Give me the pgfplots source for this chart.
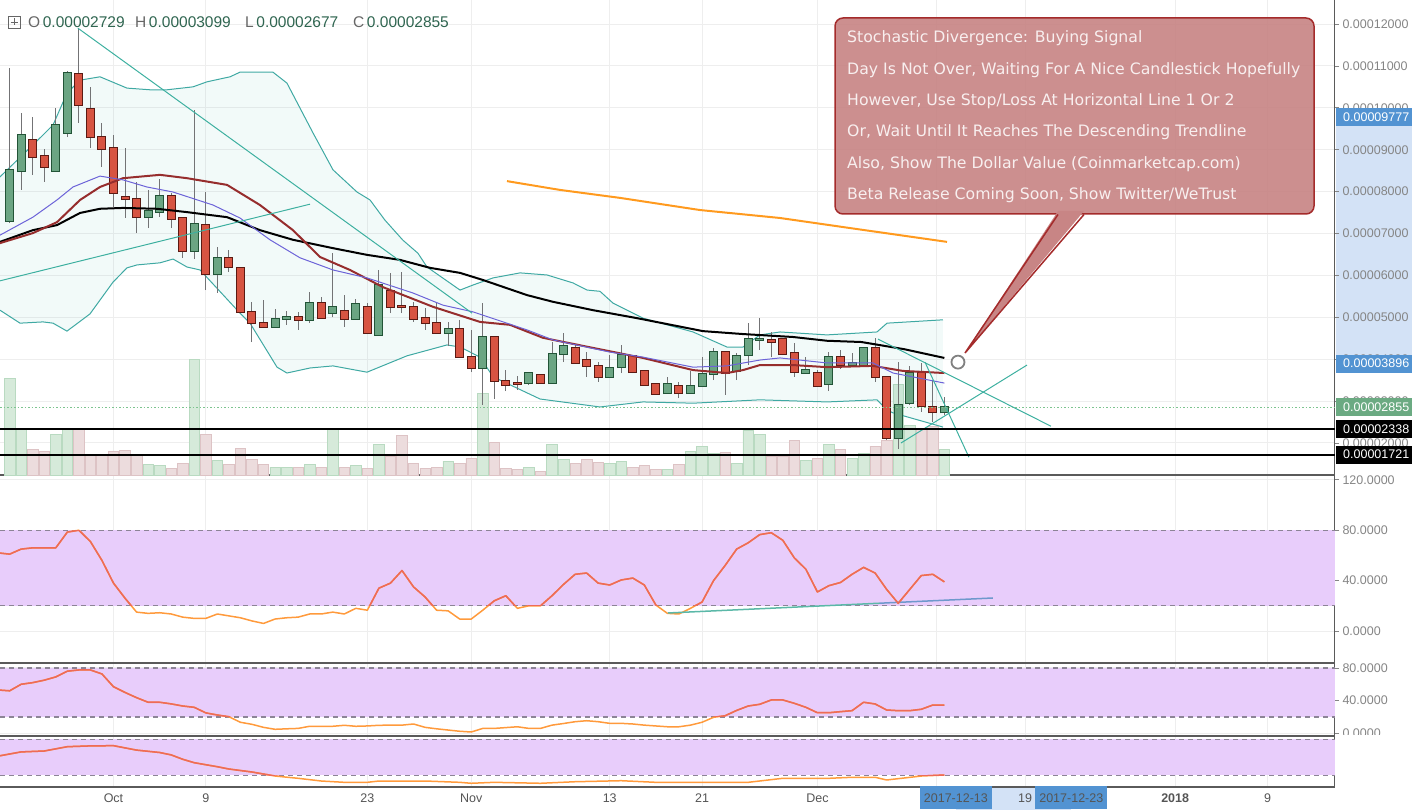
\documentclass[border=0pt]{standalone}
\usepackage{pgfplots}
\pgfplotsset{compat=1.18}
\usepackage{pgfplotstable}
\usepackage{fontspec}
\setmainfont{Liberation Sans}
\newfontfamily\dejavu{DejaVu Sans}

\definecolor{tvlabel}{HTML}{858585}
\definecolor{tvdate}{HTML}{555555}
\definecolor{gridc}{HTML}{EEEEEE}
\definecolor{axisc}{HTML}{5A5A5A}
\definecolor{gfill}{HTML}{6BA583}
\definecolor{gline}{HTML}{225437}
\definecolor{rfill}{HTML}{D75442}
\definecolor{rline}{HTML}{5B1A13}
\definecolor{wick}{HTML}{737375}
\definecolor{volg}{HTML}{D6EADA}
\definecolor{volgl}{HTML}{B9DAC1}
\definecolor{volr}{HTML}{ECDCDD}
\definecolor{volrl}{HTML}{DDC3C5}
\definecolor{bbteal}{HTML}{3FA9A3}
\definecolor{bbfillc}{HTML}{26A69A}
\definecolor{madred}{HTML}{962D2D}
\definecolor{mapurple}{HTML}{6C63D8}
\definecolor{maorange}{HTML}{FF9A1E}
\definecolor{trend}{HTML}{3DB0A0}
\definecolor{curgreen}{HTML}{7DC48F}
\definecolor{bandfill}{HTML}{E8CDFB}
\definecolor{banddash}{HTML}{8C8496}
\definecolor{stred}{HTML}{EE6A58}
\definecolor{storange}{HTML}{FF9A3C}
\definecolor{divteal}{HTML}{5BB8A8}
\definecolor{divblue}{HTML}{6E98CC}
\definecolor{tvblue}{HTML}{5293D2}
\definecolor{rangeblue}{HTML}{D3E2F6}
\definecolor{boxgreen}{HTML}{6BAA82}
\definecolor{annofill}{HTML}{C88585}
\definecolor{annoline}{HTML}{A42B2B}
\definecolor{annotext}{HTML}{F8EFEF}
\definecolor{hdrval}{HTML}{2F6550}
\definecolor{hdrkey}{HTML}{666666}

\newcommand{\lblfont}{\fontsize{12.5}{13}\selectfont}

% candles: day index (0 = 1 Oct 2017), open, high, low, close  (price x 1e-5)
\pgfplotstableread{
d O H L C
-9 7.30 10.95 7.25 8.52
-8 8.49 9.88 8.04 9.35
-5 8.49 10.00 8.47 9.59
-4 9.40 10.88 9.30 10.83
3 7.39 8.04 7.13 7.54
4 7.51 8.30 7.39 7.90
7 6.58 9.95 6.39 7.23
9 6.03 6.68 5.58 6.42
14 4.77 5.20 4.75 4.96
15 4.96 5.15 4.82 5.00
17 4.94 5.60 4.86 5.34
19 5.10 6.53 5.00 5.25
21 4.96 5.44 4.94 5.32
23 4.58 6.13 4.56 5.77
29 4.63 4.89 4.31 4.72
32 3.79 5.34 2.91 4.53
36 3.43 3.69 3.38 3.67
38 3.43 4.41 3.41 4.12
39 4.12 4.63 3.93 4.32
43 3.58 4.10 3.55 3.79
44 3.81 4.34 3.67 4.10
48 3.19 3.58 3.17 3.41
50 3.19 3.72 3.17 3.36
51 3.36 4.05 3.34 3.65
52 3.65 4.27 3.50 4.17
54 3.72 4.15 3.50 4.08
55 4.10 4.86 3.86 4.48
56 4.46 4.98 4.22 4.49
60 3.67 4.05 3.67 3.74
62 3.41 4.17 3.24 4.05
64 3.86 4.15 3.84 3.91
65 3.86 4.27 3.84 4.27
68 2.12 3.93 1.86 2.91
69 2.96 3.84 2.91 3.67
72 2.73 3.10 2.68 2.86
}\cgreen
\pgfplotstableread{
d O H L C
-7 9.23 9.78 8.40 8.83
-6 8.85 9.02 8.23 8.59
-3 10.81 11.90 9.64 10.07
-2 9.97 10.50 9.04 9.30
-1 9.30 9.64 8.59 9.02
0 9.04 9.35 7.63 7.97
1 7.87 9.04 7.37 7.82
2 7.82 8.23 7.01 7.39
5 7.90 7.97 7.13 7.35
6 7.37 7.40 6.42 6.58
8 7.20 7.99 5.65 6.03
10 6.42 6.61 6.08 6.20
11 6.18 6.20 5.10 5.13
12 5.13 5.37 4.41 4.86
13 4.86 5.41 4.77 4.77
16 5.00 5.13 4.70 4.94
18 5.34 5.48 4.96 4.98
20 5.15 5.53 4.77 4.96
22 5.25 5.34 4.60 4.63
24 5.63 6.06 5.10 5.25
25 5.28 6.08 5.10 5.25
26 5.25 5.37 4.89 4.96
27 4.98 5.22 4.70 4.86
28 4.86 5.34 4.63 4.63
30 4.72 4.94 4.05 4.05
31 4.05 4.70 3.69 3.79
33 4.53 4.53 3.05 3.48
34 3.48 3.74 3.24 3.38
35 3.44 3.60 3.27 3.41
37 3.62 3.65 3.41 3.43
40 4.27 4.34 3.91 3.91
41 3.98 4.17 3.58 3.84
42 3.84 3.93 3.46 3.58
45 4.08 4.10 3.67 3.69
46 3.72 3.74 3.38 3.38
47 3.41 3.43 3.15 3.17
49 3.36 3.46 3.07 3.19
53 4.17 4.17 3.15 3.67
57 4.46 4.65 4.05 4.41
58 4.48 4.48 4.10 4.12
59 4.15 4.39 3.58 3.69
61 3.67 3.74 3.34 3.36
63 4.05 4.22 3.77 3.86
66 4.27 4.51 3.46 3.58
67 3.58 3.58 2.07 2.12
70 3.67 3.91 2.74 2.88
71 2.86 3.50 2.50 2.73
}\cred
% volume (arbitrary units)
\pgfplotstableread{
d v
-9 97
-8 47
-5 41
-4 47
3 11
4 10
7 116
9 15
14 8
15 8
17 11
19 46
21 10
23 31
29 14
32 82
36 8
38 31
39 16
43 12
44 14
48 6
50 24
51 29
52 22
54 12
55 45
56 41
60 15
62 31
64 17
65 22
68 91
69 50
72 26
}\volgreen
\pgfplotstableread{
d v
-7 26
-6 24
-3 47
-2 21
-1 21
0 24
1 25
2 21
5 7
6 12
8 41
10 11
11 27
12 16
13 11
16 8
18 8
20 8
22 7
24 19
25 40
26 12
27 7
28 8
30 12
31 17
33 33
34 7
35 6
37 4
40 12
41 16
42 13
45 8
46 10
47 6
49 11
53 23
57 19
58 19
59 35
61 17
63 26
66 29
67 35
70 47
71 49
}\volred
% stochastic RSI panels
\pgfplotstableread{
d v
-10 62
-9 61
-8 65
-7 66
-6 66
-5 66
-4 78.5
-3 80
-2 71
-1 56
0 38
1 26
2 15
3 14
4 14.5
5 13.5
6 11
7 10
8 10
9 13.5
10 12
11 10.5
12 8
13 6
14 9.5
15 10.5
16 11
17 13.5
18 13.5
19 15
20 13.5
21 18
22 16.5
23 34
24 38
25 48
26 35
27 27
28 16.5
29 16
30 9.5
31 9.5
32 16.5
33 24
34 28
35 18
36 20
37 20
38 28
39 37
40 45
41 46
42 38
43 36.5
44 40.5
45 42
46 36.5
47 20.6
48 14
49 13.5
50 18
51 23
52 40
53 52
54 65
55 70
56 76.5
57 78
58 72
59 58
60 49
61 31
62 36
63 38.5
64 45
65 50.5
66 46
67 33
68 22
69 33
70 44
71 45
72 39
}\stochA
\pgfplotstableread{
d v
-10 53
-9 52
-8 60
-7 62
-6 65
-5 69
-4 76
-3 77.5
-2 77.5
-1 72.6
0 57
1 50
2 43.6
3 38
4 38
5 36
6 33.4
7 31.8
8 25
9 22.4
10 20.3
11 13.5
12 11
13 7.3
14 4.9
15 5.5
16 6
17 8.6
18 8.6
19 8.6
20 9.8
21 8.6
22 9
23 9.8
24 10
25 10
26 11.4
27 7.3
28 5.5
29 4
30 2.5
31 1.6
32 6
33 6
34 7
35 8
36 6
37 6
38 10
39 12
40 14.2
41 15.4
42 14.2
43 12.2
44 12.2
45 11.4
46 10
47 9
48 8
49 8
50 10
51 13.5
52 19.6
53 21.5
54 28
55 33.4
56 35.5
57 40.8
58 40.8
59 36.7
60 31.8
61 25.2
62 25.2
63 26.5
64 27.7
65 38
66 35.9
67 28.5
68 27.7
69 27.7
70 29.4
71 34.6
72 34.6
}\stochB
\pgfplotstableread{
d v
-10 52
-8 59
-6 60.5
-4 67.7
-2 69
0 69.4
2 62
4 58
5 54
6 46.7
7 41
9 34.3
10 30.5
12 25.5
14 18.8
16 15
18 10.5
20 8.3
22 8.3
23 10.5
27 10.5
30 8.3
31 6.7
33 8.3
37 6.7
40 9.3
44 11
47 8.3
51 8.3
55 8.3
58 15
62 15
64 16.7
66 16.7
67 12.2
70 18.8
72 20.5
}\stochC

\pgfplotsset{
  tvbase/.style={
    scale only axis, width=1335pt, xmin=-9.835, xmax=105.85,
    axis x line*=bottom, axis y line*=right,
    axis line style={-, draw=axisc},
    x axis line style={line width=2pt},
    y axis line style={line width=1pt},
    xtick={0,8,22,31,43,51,61,71.3,79,92,100},
    xticklabels={}, xtick style={draw=none},
    xmajorgrids, ymajorgrids,
    major grid style={draw=gridc, line width=1pt},
    tick align=outside, major tick length=4pt,
    ytick style={draw=tvlabel, line width=0.8pt},
    yticklabel style={font=\lblfont, text=tvlabel},
    clip mode=individual,
  },
  tvover/.style={
    scale only axis, width=1335pt, xmin=-9.835, xmax=105.85,
    hide axis, clip mode=individual,
  },
  bandlines/.style={banddash, line width=1.3pt, dash pattern=on 5pt off 4pt},
  wickplot/.style={mark=none, draw=none, error bars/.cd, y dir=plus, y explicit, error mark=none,
    error bar style={draw=wick, line width=1pt}},
  bodyline/.style={mark=none, draw=none, error bars/.cd, y dir=plus, y explicit, error mark=none,
    error bar style={draw=#1, line width=9pt, shorten <=-1pt, shorten >=-1pt}},
  bodyfill/.style={mark=none, draw=none, error bars/.cd, y dir=plus, y explicit, error mark=none,
    error bar style={draw=#1, line width=7pt}},
}
\tikzset{pricebox/.style={anchor=west, xshift=1pt, text=white, font=\lblfont,
  minimum height=18pt, inner ysep=0pt, inner xsep=7pt, text width=62pt, align=left}}

\begin{document}
\begin{tikzpicture}
\path[use as bounding box] (0pt,0pt) rectangle (1412pt,-810pt);

% ---------- price-scale highlight (behind the labels) ----------
\begin{axis}[tvover, at={(0pt,0pt)}, anchor=north west, height=475pt, ymin=1.236, ymax=12.573]
  \addplot[draw=none] coordinates {(0,5) (10,6)};
  \fill[rangeblue] (axis cs:105.95,9.777) rectangle (axis cs:112.6,3.896);
\end{axis}

% ---------- main panel: grid, price scale ----------
\begin{axis}[tvbase, at={(0pt,0pt)}, anchor=north west, height=475pt,
  ymin=1.236, ymax=12.573,
  ytick={2,3,4,5,6,7,8,9,10,11,12},
  yticklabels={0.00002000,0.00003000,0.00004000,0.00005000,0.00006000,0.00007000,0.00008000,0.00009000,0.00010000,0.00011000,0.00012000}]
  \addplot[draw=none] coordinates {(0,5) (10,6)};
\end{axis}

% ---------- volume ----------
\begin{axis}[tvover, at={(0pt,0pt)}, anchor=north west, height=475pt, ymin=0, ymax=475]
  \addplot[ybar, bar width=10.5pt, bar shift=0pt, fill=volg, draw=volgl, line width=0.6pt] table[x=d,y=v] {\volgreen};
  \addplot[ybar, bar width=10.5pt, bar shift=0pt, fill=volr, draw=volrl, line width=0.6pt] table[x=d,y=v] {\volred};
\end{axis}

% ---------- main panel: price series and indicators ----------
\begin{axis}[tvover, at={(0pt,0pt)}, anchor=north west, height=475pt,
  ymin=1.236, ymax=12.573]
  % Bollinger band area and lines
  \addplot[fill=bbfillc, fill opacity=0.06, draw=none] coordinates {
    (-9.84,8.35) (-6.11,9.35) (-5.24,9.59) (-4.03,10.35) (-2.90,10.66) (-1.17,10.74) (1.17,10.47) (3.16,10.43) (4.64,10.43) (6.89,10.50) (8.10,10.62) (10.10,10.74) (10.96,10.85) (13.82,10.85) (15.03,10.59) (17.29,9.40) (19.02,8.52) (21.10,7.99) (22.23,7.80) (23.52,7.32) (25.08,6.84) (26.38,6.53) (27.17,6.20) (30.03,5.65) (31.15,5.77) (32.89,5.94) (35.23,6.06) (37.57,6.01) (39.82,5.82) (41.04,5.65) (42.16,5.62) (43.28,5.34) (45.88,4.98) (50.22,4.65) (53.16,4.29) (54.55,4.29) (56.02,4.58) (57.76,4.65) (61.83,4.58) (66.16,4.65) (67.03,4.86) (71.88,4.94)
    (71.88,2.38) (67.55,2.72) (67.03,2.79) (66.16,3.03) (61.83,2.98) (56.02,3.03) (50.22,2.95) (45.88,2.98) (42.16,2.86) (36.96,3.05) (32.89,3.58) (31.76,4.05) (30.03,4.29) (28.90,4.34) (25.43,4.08) (21.97,3.69) (19.02,3.84) (17.03,3.79) (15.03,3.67) (14.17,3.81) (11.83,4.86) (10.96,5.10) (7.50,6.13) (6.37,6.20) (5.16,6.39) (4.03,6.30) (2.04,6.25) (1.17,6.18) (-0.04,5.84) (-2.04,5.08) (-4.03,4.67) (-5.24,4.86) (-6.11,4.89) (-8.10,4.86) (-9.84,5.17)} -- cycle;
  \addplot[bbteal, line width=1pt, line join=round] coordinates {
    (-9.84,8.35) (-6.11,9.35) (-5.24,9.59) (-4.03,10.35) (-2.90,10.66) (-1.17,10.74) (1.17,10.47) (3.16,10.43) (4.64,10.43) (6.89,10.50) (8.10,10.62) (10.10,10.74) (10.96,10.85) (13.82,10.85) (15.03,10.59) (17.29,9.40) (19.02,8.52) (21.10,7.99) (22.23,7.80) (23.52,7.32) (25.08,6.84) (26.38,6.53) (27.17,6.20) (30.03,5.65) (31.15,5.77) (32.89,5.94) (35.23,6.06) (37.57,6.01) (39.82,5.82) (41.04,5.65) (42.16,5.62) (43.28,5.34) (45.88,4.98) (50.22,4.65) (53.16,4.29) (54.55,4.29) (56.02,4.58) (57.76,4.65) (61.83,4.58) (66.16,4.65) (67.03,4.86) (71.88,4.94)};
  \addplot[bbteal, line width=1pt, line join=round] coordinates {
    (-9.84,5.17) (-8.10,4.86) (-6.11,4.89) (-5.24,4.86) (-4.03,4.67) (-2.04,5.08) (-0.04,5.84) (1.17,6.18) (2.04,6.25) (4.03,6.30) (5.16,6.39) (6.37,6.20) (7.50,6.13) (10.96,5.10) (11.83,4.86) (14.17,3.81) (15.03,3.67) (17.03,3.79) (19.02,3.84) (21.97,3.69) (25.43,4.08) (28.90,4.34) (30.03,4.29) (31.76,4.05) (32.89,3.58) (36.96,3.05) (42.16,2.86) (45.88,2.98) (50.22,2.95) (56.02,3.03) (61.83,2.98) (66.16,3.03) (67.03,2.79) (67.55,2.72) (71.88,2.38)};

  % candles: wicks
  \addplot[wickplot] table[x=d, y=L, y error expr=\thisrow{H}-\thisrow{L}] {\cgreen};
  \addplot[wickplot] table[x=d, y=L, y error expr=\thisrow{H}-\thisrow{L}] {\cred};
  % candles: bodies (outline, then fill)
  \addplot[bodyline=gline] table[x=d, y=O, y error expr=\thisrow{C}-\thisrow{O}] {\cgreen};
  \addplot[bodyfill=gfill] table[x=d, y=O, y error expr=\thisrow{C}-\thisrow{O}] {\cgreen};
  \addplot[bodyline=rline] table[x=d, y=C, y error expr=\thisrow{O}-\thisrow{C}] {\cred};
  \addplot[bodyfill=rfill] table[x=d, y=C, y error expr=\thisrow{O}-\thisrow{C}] {\cred};

  % moving averages
  \addplot[black, line width=2pt, line join=round] coordinates {
    (-9.84,6.80) (-6.98,7.08) (-4.90,7.20) (-2.90,7.49) (-1.17,7.59) (0.82,7.61) (3.77,7.59) (6.37,7.51) (9.84,7.39) (12.69,7.08) (15.55,6.85) (19.02,6.65) (21.97,6.49) (24.83,6.37) (27.43,6.18) (30.03,6.06) (32.02,5.89) (35.83,5.53) (38.08,5.37) (41.55,5.17) (45.36,4.98) (51.08,4.67) (54.55,4.60) (58.88,4.53) (61.83,4.44) (64.8,4.41) (68.5,4.24) (72,4.03)};
  \addplot[madred, line width=2pt, line join=round] coordinates {
    (-9.84,6.77) (-6.98,7.01) (-4.90,7.27) (-2.90,7.80) (-1.17,8.11) (0.82,8.32) (4.03,8.40) (6.37,8.32) (9.84,8.16) (12.69,7.68) (15.55,7.08) (17.89,6.44) (20.49,6.13) (23.35,5.72) (27.69,5.25) (31.76,4.89) (34.36,4.82) (37.22,4.51) (41.55,4.27) (45.88,4.03) (50.22,3.74) (53.16,3.67) (54.55,3.74) (56.02,3.86) (58.88,3.86) (61.83,3.81) (65.81,3.84) (68.41,3.72) (72,3.67)};
  \addplot[mapurple, line width=1pt, line join=round] coordinates {
    (-9.84,6.96) (-6.98,7.39) (-4.90,7.80) (-3.51,8.11) (-1.17,8.37) (0.82,8.28) (2.90,8.11) (5.16,7.99) (8.62,7.68) (10.96,7.37) (13.56,6.85) (16.16,6.42) (19.02,6.13) (21.97,5.94) (25.95,5.58) (28.55,5.29) (31.15,5.13) (35.83,4.70) (38.08,4.46) (43.02,4.17) (45.88,4.05) (50.22,3.81) (53.16,3.84) (56.02,3.98) (57.76,4.03) (61.83,3.91) (65.81,3.91) (67.55,3.67) (72,3.43)};
  \addplot[maorange, line width=2pt, line join=round] coordinates {
    (34.10,8.25) (38.69,8.04) (43.89,7.85) (50.82,7.56) (57.76,7.37) (63.82,7.13) (72.23,6.80)};

  % trend lines
  \addplot[trend, line width=1pt] coordinates {(-3.08,11.90) (31.07,5.10)};
  \addplot[trend, line width=1pt] coordinates {(-9.84,5.87) (17.03,7.70)};
  \addplot[trend, line width=1pt] coordinates {(66.25,4.48) (81.24,2.40)};
  \addplot[trend, line width=1pt] coordinates {(70.32,3.93) (74.13,1.66)};
  \addplot[trend, line width=1pt] coordinates {(68.24,2.00) (79.16,3.86)};

  % current price and horizontal levels
  \addplot[curgreen, line width=1pt, dash pattern=on 1.5pt off 2pt] coordinates {(-9.835,2.855) (105.85,2.855)};
  \addplot[black, line width=2pt] coordinates {(-9.835,2.338) (105.85,2.338)};
  \addplot[black, line width=2pt] coordinates {(-9.835,1.721) (105.85,1.721)};

  % callout anchor point
  \addplot[only marks, mark=*, mark size=6.5pt, mark options={fill=white, draw=gray, line width=1.8pt}] coordinates {(73.18,3.93)};

  % price scale labels
  \node[pricebox, fill=tvblue] at (axis cs:105.85,9.777) {0.00009777};
  \node[pricebox, fill=tvblue] at (axis cs:105.85,3.896) {0.00003896};
  \node[pricebox, fill=boxgreen] at (axis cs:105.85,2.855) {0.00002855};
  \node[pricebox, fill=black] at (axis cs:105.85,2.338) {0.00002338};
  \node[pricebox, fill=black] at (axis cs:105.85,1.721) {0.00001721};
\end{axis}

% ---------- panel 2 ----------
\begin{axis}[tvbase, at={(0pt,-663pt)}, anchor=south west, height=187pt,
  ymin=-25.40, ymax=123.02,
  ytick={0,40,80,120}, yticklabels={0.0000,40.0000,80.0000,120.0000}]
  \addplot[fill=bandfill, draw=none] coordinates {(-9.835,20) (105.85,20) (105.85,80) (-9.835,80)} -- cycle;
  \addplot[bandlines] coordinates {(-9.835,80) (105.85,80)};
  \addplot[bandlines] coordinates {(-9.835,20) (105.85,20)};
  \addplot[storange, line width=1.5pt, line join=round] table[x=d,y=v] {\stochA};
  \addplot[divteal, line width=1.5pt] coordinates {(48.04,14.3) (66.4,22.06)};
  \addplot[divblue, line width=1.5pt] coordinates {(66.4,22.06) (76.21,26.2)};
\end{axis}
\begin{axis}[tvover, at={(0pt,-605.8pt)}, anchor=south west, height=75.6pt, ymin=20, ymax=80]
  \addplot[stred, line width=1.5pt, line join=round] table[x=d,y=v] {\stochA};
\end{axis}

% ---------- panel 3 ----------
\begin{axis}[tvbase, at={(0pt,-736pt)}, anchor=south west, height=72pt,
  ymin=-3.30, ymax=84.82,
  ytick={0,40,80}, yticklabels={0.0000,40.0000,80.0000}]
  \addplot[fill=bandfill, draw=none] coordinates {(-9.835,20) (105.85,20) (105.85,80) (-9.835,80)} -- cycle;
  \addplot[bandlines] coordinates {(-9.835,80) (105.85,80)};
  \addplot[bandlines] coordinates {(-9.835,20) (105.85,20)};
  \addplot[storange, line width=1.5pt, line join=round] table[x=d,y=v] {\stochB};
\end{axis}
\begin{axis}[tvover, at={(0pt,-716.96pt)}, anchor=south west, height=49.06pt, ymin=20, ymax=80]
  \addplot[stred, line width=1.5pt, line join=round] table[x=d,y=v] {\stochB};
\end{axis}

% ---------- date-scale highlight (behind the labels) ----------
\begin{axis}[tvover, at={(0pt,-786.7pt)}, anchor=south west, height=49.7pt, ymin=1.0, ymax=83.83]
  \addplot[draw=none] coordinates {(0,20) (10,30)};
  \fill[white] (axis cs:105.95,88) rectangle (axis cs:112.6,1.0);
  \fill[rangeblue] (axis cs:73,0.5) rectangle (axis cs:83,-37.8);
\end{axis}

% ---------- panel 4 + date scale ----------
\begin{axis}[tvbase, at={(0pt,-786.7pt)}, anchor=south west, height=49.7pt,
  ymin=1.0, ymax=83.83, ytick=\empty,
  xticklabels={Oct,9,23,Nov,13,21,Dec,,19,{\bfseries 2018},9},
  xticklabel style={font=\lblfont, text=tvdate},
  extra x ticks={73,83}, extra x tick labels={2017-12-13,2017-12-23},
  extra x tick style={grid=none, tick label style={fill=tvblue, text=white, font=\bfseries\lblfont,
     minimum width=72pt, minimum height=23pt, inner sep=0pt, yshift=4.5pt}}]
  \addplot[fill=bandfill, draw=none] coordinates {(-9.835,20) (105.85,20) (105.85,80) (-9.835,80)} -- cycle;
  \addplot[bandlines] coordinates {(-9.835,80) (105.85,80)};
  \addplot[bandlines] coordinates {(-9.835,20) (105.85,20)};
  \addplot[storange, line width=1.5pt, line join=round] table[x=d,y=v] {\stochC};
\end{axis}
\begin{axis}[tvover, at={(0pt,-775.3pt)}, anchor=south west, height=36pt, ymin=20, ymax=80]
  \addplot[stred, line width=1.5pt, line join=round] table[x=d,y=v] {\stochC};
\end{axis}

% ---------- header ----------
\draw[hdrkey, line width=0.8pt] (8pt,-16pt) rectangle (20pt,-28pt);
\draw[hdrkey, line width=0.8pt] (14pt,-18.5pt) -- (14pt,-25.5pt) (10.5pt,-22pt) -- (17.5pt,-22pt);
\begin{scope}[every node/.style={anchor=base west, inner sep=0pt, font=\fontsize{15.5}{16}\selectfont}]
\node at (28pt,-27.5pt) {\textcolor{hdrkey}{O}\,\textcolor{hdrval}{0.00002729}};
\node at (135pt,-27.5pt) {\textcolor{hdrkey}{H}\,\textcolor{hdrval}{0.00003099}};
\node at (245pt,-27.5pt) {\textcolor{hdrkey}{L}\,\textcolor{hdrval}{0.00002677}};
\node at (353pt,-27.5pt) {\textcolor{hdrkey}{C}\,\textcolor{hdrval}{0.00002855}};
\end{scope}

% ---------- callout ----------
\path[fill=annofill, fill opacity=0.92, draw=annoline, line width=1.5pt, rounded corners=8pt]
  (835pt,-18pt) rectangle (1314pt,-214pt);
\fill[annofill] (1058pt,-211pt) -- (965pt,-353pt) -- (1084pt,-211pt) -- cycle;
\draw[annoline, line width=1.5pt, line join=miter] (1058pt,-214.5pt) -- (965pt,-353pt) -- (1084pt,-214.5pt);
\begin{scope}[every node/.style={anchor=base west, inner sep=0pt, text=annotext, font=\dejavu\fontsize{15.7}{16}\selectfont}]
\node at (847pt,-42.7pt) {Stochastic Divergence: Buying Signal};
\node at (847pt,-74.2pt) {Day Is Not Over, Waiting For A Nice Candlestick Hopefully};
\node at (847pt,-105.7pt) {However, Use Stop/Loss At Horizontal Line 1 Or 2};
\node at (847pt,-136.9pt) {Or, Wait Until It Reaches The Descending Trendline};
\node at (847pt,-168.2pt) {Also, Show The Dollar Value (Coinmarketcap.com)};
\node at (847pt,-199.7pt) {Beta Release Coming Soon, Show Twitter/WeTrust};
\end{scope}
\end{tikzpicture}
\end{document}
